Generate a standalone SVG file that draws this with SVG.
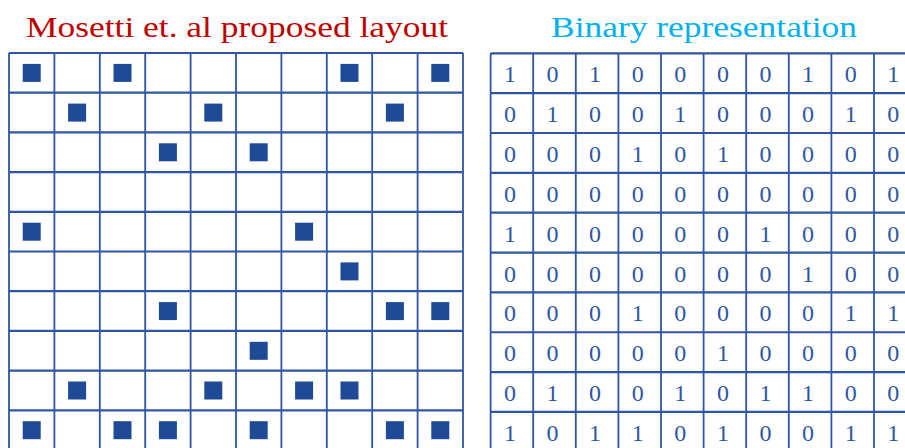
<svg xmlns="http://www.w3.org/2000/svg" width="905" height="448" viewBox="0 0 905 448">
<style>
.title{font-family:"Liberation Serif","Times New Roman",serif;font-size:30px}
.grid{fill:none;stroke:#2f56a4}
.h{stroke-width:2.2}
.v{stroke-width:1.8}
.sq{fill:#1f4a96}
.d{font-family:"Liberation Serif","Times New Roman",serif;font-size:24px;fill:#2f56a4;text-anchor:middle}
</style>
<rect width="905" height="448" fill="#ffffff"/>
<text id="title-left" class="title" x="26" y="37" fill="#c00000" textLength="422" lengthAdjust="spacingAndGlyphs">Mosetti et. al proposed layout</text>
<text id="title-right" class="title" x="551" y="37" fill="#00b0f0" textLength="306" lengthAdjust="spacingAndGlyphs">Binary representation</text>

<g id="layout-grid">
<path class="grid h" d="M9 53H463M9 92.7H463M9 132.4H463M9 172.1H463M9 211.8H463M9 251.5H463M9 291.2H463M9 330.9H463M9 370.6H463M9 410.3H463"/>
<path class="grid v" d="M9 53V448M54.4 53V448M99.8 53V448M145.2 53V448M190.6 53V448M236 53V448M281.4 53V448M326.8 53V448M372.2 53V448M417.6 53V448M463 53V448"/>
<g id="squares">
<rect class="sq" x="22.7" y="63.9" width="18" height="18"/><rect class="sq" x="113.5" y="63.9" width="18" height="18"/><rect class="sq" x="340.5" y="63.9" width="18" height="18"/><rect class="sq" x="431.3" y="63.9" width="18" height="18"/>
<rect class="sq" x="68.1" y="103.6" width="18" height="18"/><rect class="sq" x="204.3" y="103.6" width="18" height="18"/><rect class="sq" x="385.9" y="103.6" width="18" height="18"/>
<rect class="sq" x="158.9" y="143.3" width="18" height="18"/><rect class="sq" x="249.7" y="143.3" width="18" height="18"/>
<rect class="sq" x="22.7" y="222.7" width="18" height="18"/><rect class="sq" x="295.1" y="222.7" width="18" height="18"/>
<rect class="sq" x="340.5" y="262.4" width="18" height="18"/>
<rect class="sq" x="158.9" y="302.1" width="18" height="18"/><rect class="sq" x="385.9" y="302.1" width="18" height="18"/><rect class="sq" x="431.3" y="302.1" width="18" height="18"/>
<rect class="sq" x="249.7" y="341.8" width="18" height="18"/>
<rect class="sq" x="68.1" y="381.5" width="18" height="18"/><rect class="sq" x="204.3" y="381.5" width="18" height="18"/><rect class="sq" x="295.1" y="381.5" width="18" height="18"/><rect class="sq" x="340.5" y="381.5" width="18" height="18"/>
<rect class="sq" x="22.7" y="421.2" width="18" height="18"/><rect class="sq" x="113.5" y="421.2" width="18" height="18"/><rect class="sq" x="158.9" y="421.2" width="18" height="18"/><rect class="sq" x="249.7" y="421.2" width="18" height="18"/><rect class="sq" x="385.9" y="421.2" width="18" height="18"/><rect class="sq" x="431.3" y="421.2" width="18" height="18"/>
</g>
</g>

<g id="binary-grid">
<path class="grid h" d="M490.6 53.3H905M490.6 93.15H905M490.6 133H905M490.6 172.85H905M490.6 212.7H905M490.6 252.55H905M490.6 292.4H905M490.6 332.25H905M490.6 372.1H905M490.6 411.95H905"/>
<path class="grid v" d="M490.6 53.3V448M533.2 53.3V448M575.8 53.3V448M618.4 53.3V448M661 53.3V448M703.6 53.3V448M746.2 53.3V448M788.8 53.3V448M831.4 53.3V448M874 53.3V448"/>
<g id="digits">
<text class="d" y="82.2"><tspan x="509.9">1</tspan><tspan x="552.5">0</tspan><tspan x="595.1">1</tspan><tspan x="637.7">0</tspan><tspan x="680.3">0</tspan><tspan x="722.9">0</tspan><tspan x="765.5">0</tspan><tspan x="808.1">1</tspan><tspan x="850.7">0</tspan><tspan x="893.3">1</tspan></text>
<text class="d" y="122.1"><tspan x="509.9">0</tspan><tspan x="552.5">1</tspan><tspan x="595.1">0</tspan><tspan x="637.7">0</tspan><tspan x="680.3">1</tspan><tspan x="722.9">0</tspan><tspan x="765.5">0</tspan><tspan x="808.1">0</tspan><tspan x="850.7">1</tspan><tspan x="893.3">0</tspan></text>
<text class="d" y="161.9"><tspan x="509.9">0</tspan><tspan x="552.5">0</tspan><tspan x="595.1">0</tspan><tspan x="637.7">1</tspan><tspan x="680.3">0</tspan><tspan x="722.9">1</tspan><tspan x="765.5">0</tspan><tspan x="808.1">0</tspan><tspan x="850.7">0</tspan><tspan x="893.3">0</tspan></text>
<text class="d" y="201.8"><tspan x="509.9">0</tspan><tspan x="552.5">0</tspan><tspan x="595.1">0</tspan><tspan x="637.7">0</tspan><tspan x="680.3">0</tspan><tspan x="722.9">0</tspan><tspan x="765.5">0</tspan><tspan x="808.1">0</tspan><tspan x="850.7">0</tspan><tspan x="893.3">0</tspan></text>
<text class="d" y="241.6"><tspan x="509.9">1</tspan><tspan x="552.5">0</tspan><tspan x="595.1">0</tspan><tspan x="637.7">0</tspan><tspan x="680.3">0</tspan><tspan x="722.9">0</tspan><tspan x="765.5">1</tspan><tspan x="808.1">0</tspan><tspan x="850.7">0</tspan><tspan x="893.3">0</tspan></text>
<text class="d" y="281.5"><tspan x="509.9">0</tspan><tspan x="552.5">0</tspan><tspan x="595.1">0</tspan><tspan x="637.7">0</tspan><tspan x="680.3">0</tspan><tspan x="722.9">0</tspan><tspan x="765.5">0</tspan><tspan x="808.1">1</tspan><tspan x="850.7">0</tspan><tspan x="893.3">0</tspan></text>
<text class="d" y="321.3"><tspan x="509.9">0</tspan><tspan x="552.5">0</tspan><tspan x="595.1">0</tspan><tspan x="637.7">1</tspan><tspan x="680.3">0</tspan><tspan x="722.9">0</tspan><tspan x="765.5">0</tspan><tspan x="808.1">0</tspan><tspan x="850.7">1</tspan><tspan x="893.3">1</tspan></text>
<text class="d" y="361.2"><tspan x="509.9">0</tspan><tspan x="552.5">0</tspan><tspan x="595.1">0</tspan><tspan x="637.7">0</tspan><tspan x="680.3">0</tspan><tspan x="722.9">1</tspan><tspan x="765.5">0</tspan><tspan x="808.1">0</tspan><tspan x="850.7">0</tspan><tspan x="893.3">0</tspan></text>
<text class="d" y="401.0"><tspan x="509.9">0</tspan><tspan x="552.5">1</tspan><tspan x="595.1">0</tspan><tspan x="637.7">0</tspan><tspan x="680.3">1</tspan><tspan x="722.9">0</tspan><tspan x="765.5">1</tspan><tspan x="808.1">1</tspan><tspan x="850.7">0</tspan><tspan x="893.3">0</tspan></text>
<text class="d" y="440.9"><tspan x="509.9">1</tspan><tspan x="552.5">0</tspan><tspan x="595.1">1</tspan><tspan x="637.7">1</tspan><tspan x="680.3">0</tspan><tspan x="722.9">1</tspan><tspan x="765.5">0</tspan><tspan x="808.1">0</tspan><tspan x="850.7">1</tspan><tspan x="893.3">1</tspan></text>
</g>
</g>
</svg>
